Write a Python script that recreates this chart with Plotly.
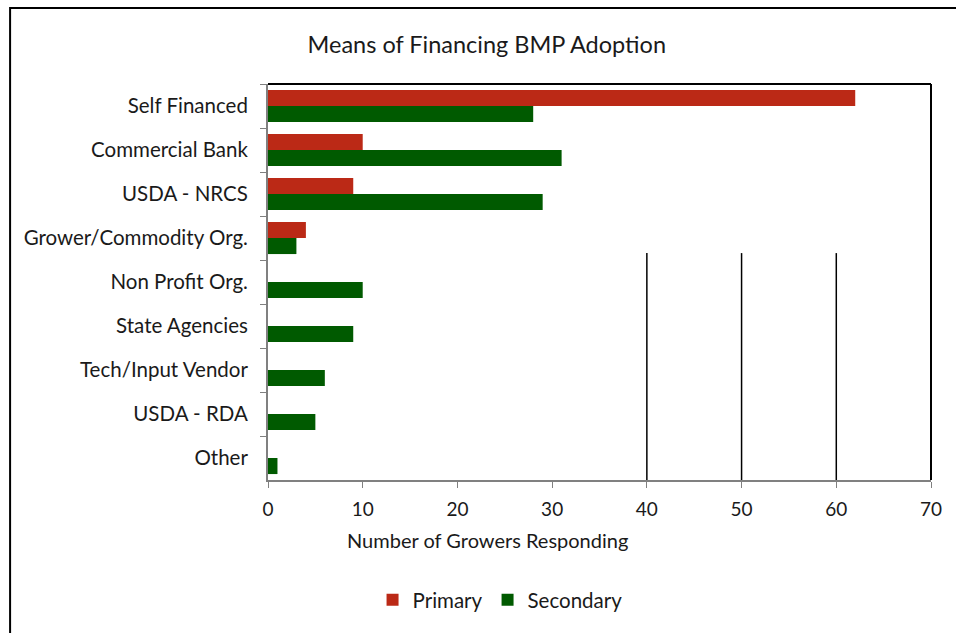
import plotly.graph_objects as go

# categories top to bottom
categories = [
    "Self Financed",
    "Commercial Bank",
    "USDA - NRCS",
    "Grower/Commodity Org.",
    "Non Profit Org.",
    "State Agencies",
    "Tech/Input Vendor",
    "USDA - RDA",
    "Other",
]
primary = [62, 10, 9, 4, 0, 0, 0, 0, 0]
secondary = [28, 31, 29, 3, 10, 9, 6, 5, 1]

x_ticks = [0, 10, 20, 30, 40, 50, 60, 70]
partial_grid = [40, 50, 60]

RED = "#BB2916"
GREEN = "#005A00"
FONT = "Lato, 'Open Sans', sans-serif"
TEXT = "#1a1a1a"

fig = go.Figure()
fig.add_trace(go.Bar(
    y=categories, x=primary, name="Primary", orientation="h",
    marker=dict(color=RED, line=dict(width=0)),
))
fig.add_trace(go.Bar(
    y=categories, x=secondary, name="Secondary", orientation="h",
    marker=dict(color=GREEN, line=dict(width=0)),
))

# partial vertical gridlines, as in the source picture
for gx in partial_grid:
    fig.add_shape(type="line", xref="x", yref="paper", x0=gx, x1=gx, y0=0, y1=0.573,
                  line=dict(color="black", width=1.5), layer="below")

# top and right frame of the plot area
fig.add_shape(type="line", xref="paper", yref="paper", x0=0, x1=1, y0=1, y1=1,
              line=dict(color="black", width=2))
fig.add_shape(type="line", xref="paper", yref="paper", x0=1, x1=1, y0=0, y1=1,
              line=dict(color="black", width=2))

# outer chart border (cut off at right and bottom)
fig.add_shape(type="rect", xref="paper", yref="paper", x0=-0.389, x1=1.06, y0=-0.42, y1=1.192,
              line=dict(color="black", width=2), fillcolor="rgba(0,0,0,0)")

# x axis title sits under the chart title, not the plot centre
fig.add_annotation(
    text="Number of Growers Responding", xref="paper", yref="paper",
    x=0.331, y=-0.152, xanchor="center", yanchor="middle", showarrow=False,
    font=dict(size=20, family=FONT, color=TEXT),
)

fig.update_layout(
    width=956,
    height=633,
    paper_bgcolor="white",
    plot_bgcolor="white",
    barmode="group",
    bargap=0.27,
    bargroupgap=0,
    margin=dict(l=268, r=25, t=84, b=153),
    font=dict(family=FONT, color=TEXT, size=20),
    title=dict(
        text="Means of Financing BMP Adoption",
        font=dict(size=23.5, family=FONT, color=TEXT),
        x=0.33, xref="paper", xanchor="center",
        y=1 - 45 / 633, yref="container", yanchor="middle",
    ),
    xaxis=dict(
        range=[0, 70],
        tickvals=x_ticks,
        showgrid=False,
        zeroline=False,
        showline=True,
        linecolor="#808080",
        linewidth=2,
        ticks="outside",
        ticklen=6,
        tickcolor="#808080",
        ticklabelstandoff=5,
        tickfont=dict(size=19, family=FONT, color=TEXT),
    ),
    xaxis2=dict(
        overlaying="x",
        side="top",
        range=[0, 70],
        tickvals=x_ticks,
        showgrid=False,
        zeroline=False,
        showline=False,
        ticks="outside",
        ticklen=4,
        tickcolor="black",
        showticklabels=False,
    ),
    yaxis=dict(
        autorange="reversed",
        showgrid=False,
        showline=True,
        linecolor="#808080",
        linewidth=2,
        ticks="outside",
        tickson="boundaries",
        ticklen=6,
        tickcolor="#808080",
        ticklabelstandoff=14,
        tickfont=dict(size=20.5, family=FONT, color=TEXT),
    ),
    legend=dict(
        orientation="h",
        x=0.35, xanchor="center",
        y=-0.303, yanchor="middle",
        font=dict(size=20.5, family=FONT, color=TEXT),
        itemwidth=30,
        traceorder="normal",
    ),
    showlegend=True,
)

fig.write_html(
    "out.html",
    config={"displayModeBar": False},
    post_script="document.body.style.margin='0';",
)
